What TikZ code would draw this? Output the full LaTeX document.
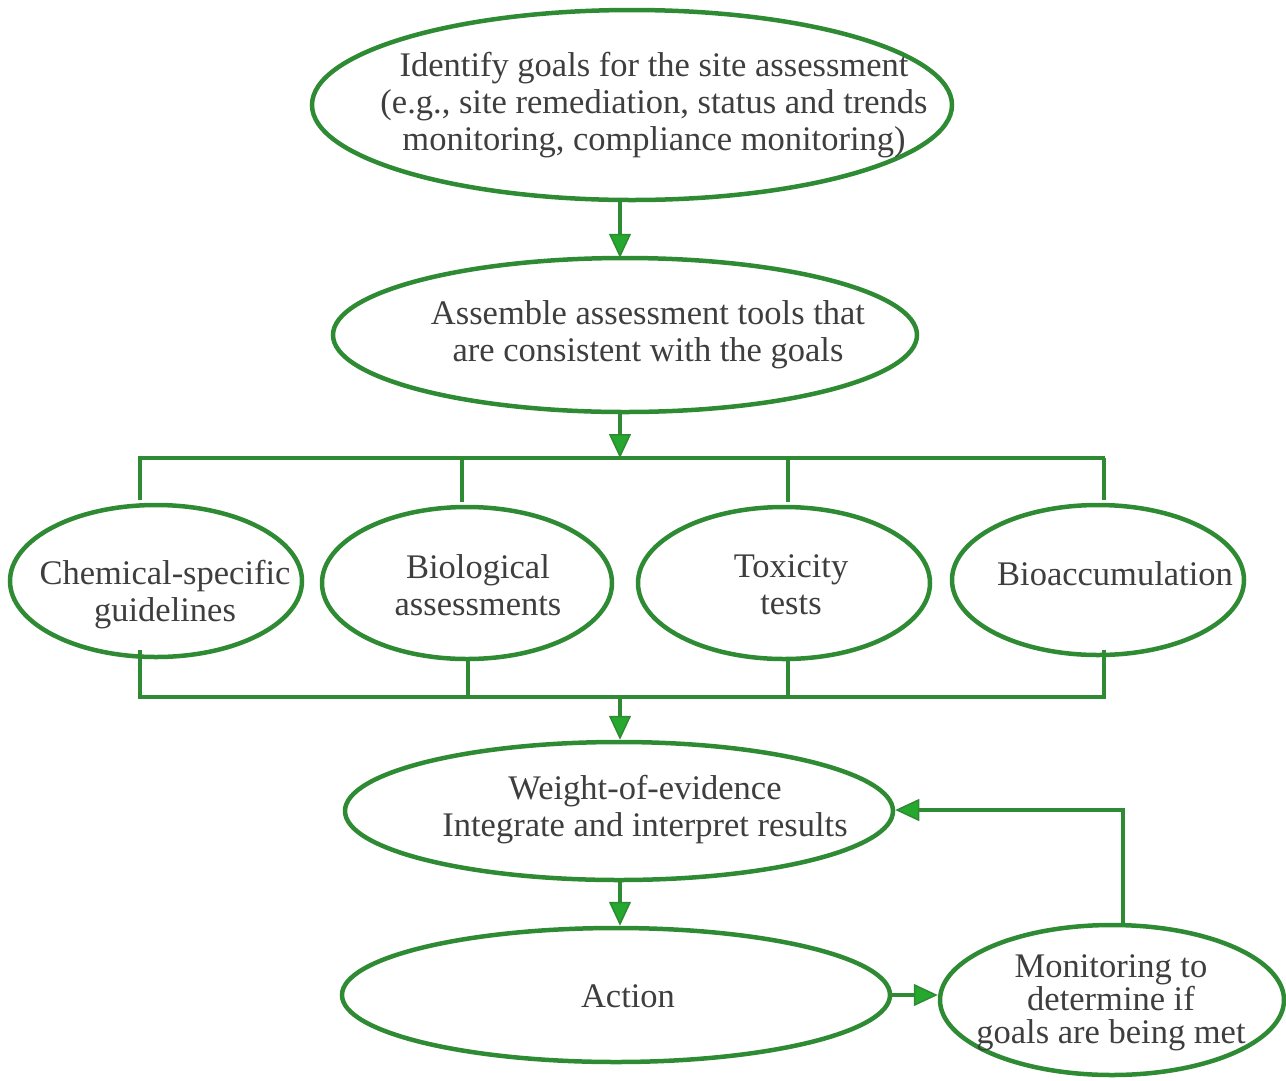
\documentclass[tikz,border=0pt]{standalone}
\usepackage{fontspec}
\setmainfont{Liberation Serif}
\usetikzlibrary{shapes.geometric,arrows.meta}
\definecolor{lgreen}{HTML}{2E8B34}
\definecolor{agreen}{HTML}{26A82E}
\definecolor{tgray}{HTML}{3E3E3E}
\begin{document}
\begin{tikzpicture}[x=1pt,y=-1pt,
  oval/.style={ellipse,draw=lgreen,line width=4.5pt,inner sep=0pt},
  txt/.style={text=tgray,align=center,inner sep=0pt,font=\fontsize{34.5}{37}\selectfont},
  conn/.style={draw=lgreen,line width=4.5pt},
  arr/.style={conn,-{Triangle[width=22pt,length=24pt,fill=agreen,line width=1.5pt]}}]
\useasboundingbox (0,0) rectangle (1286,1080);
% ellipses
\node[oval,minimum width=640pt,minimum height=190pt] (goals) at (632,105) {};
\node[oval,minimum width=584pt,minimum height=154pt] (assemble) at (625,335) {};
\node[oval,minimum width=292pt,minimum height=152pt] (chem) at (156,581) {};
\node[oval,minimum width=290pt,minimum height=152pt] (bio) at (467,583) {};
\node[oval,minimum width=292pt,minimum height=152pt] (tox) at (784,583) {};
\node[oval,minimum width=292pt,minimum height=150pt] (bioacc) at (1098,580) {};
\node[oval,minimum width=548pt,minimum height=138pt] (woe) at (619,811) {};
\node[oval,minimum width=548pt,minimum height=134pt] (action) at (616,995) {};
\node[oval,minimum width=344pt,minimum height=150pt] (mon) at (1112,1000) {};
% texts
\node[txt] (tgoals) at (654,105) {Identify goals for the site assessment\\(e.g., site remediation, status and trends\\monitoring, compliance monitoring)};
\node[txt] (tassemble) at (648,335) {Assemble assessment tools that\\are consistent with the goals};
\node[txt] (tchem) at (165,595) {Chemical-specific\\guidelines};
\node[txt] (tbio) at (478,585) {Biological\\assessments};
\node[txt] (ttox) at (791,585) {Toxicity\\tests};
\node[txt] (tbioacc) at (1115,574) {Bioaccumulation};
\node[txt] (twoe) at (645,810) {Weight-of-evidence\\Integrate and interpret results};
\node[txt] (taction) at (628,996) {Action};
\node[txt,font=\fontsize{34.5}{33}\selectfont] (tmon) at (1111,1003) {Monitoring to\\determine if\\goals are being met};
% coordinates
\coordinate (ax) at (620,0);
\coordinate (tbL) at (138,458);
\coordinate (tbR) at (1105,458);
\coordinate (tbM) at (620,458);
\coordinate (bbL) at (138,697);
\coordinate (bbR) at (1105,697);
\coordinate (bbM) at (620,697);
\coordinate (fb) at (1123,810);
% main arrows
\draw[arr] (goals.south -| ax) -- ([yshift=-2pt]assemble.north -| ax);
\draw[arr] (assemble.south -| ax) -- (tbM);
% top bus
\draw[conn] (tbL) -- (tbR);
\draw[conn] (140,456) -- (140,500);
\draw[conn] (462,458) -- (462,502);
\draw[conn] (788,458) -- (788,502);
\draw[conn] (1104,458) -- (1104,500);
% bottom bus
\draw[conn] (bbL) -- (bbR);
\draw[conn] (140,650) -- (140,699);
\draw[conn] (468,659) -- (468,697);
\draw[conn] (788,659) -- (788,697);
\draw[conn] (1104,650) -- (1104,699);
\draw[arr] (bbM) -- (woe.north -| ax);
\draw[arr] (woe.south -| ax) -- (action.north -| ax);
\draw[arr] (action.east) -- (mon.west |- action.east);
\draw[arr] (mon.north -| fb) -- (fb) -- (woe.east |- fb);
\end{tikzpicture}
\end{document}
